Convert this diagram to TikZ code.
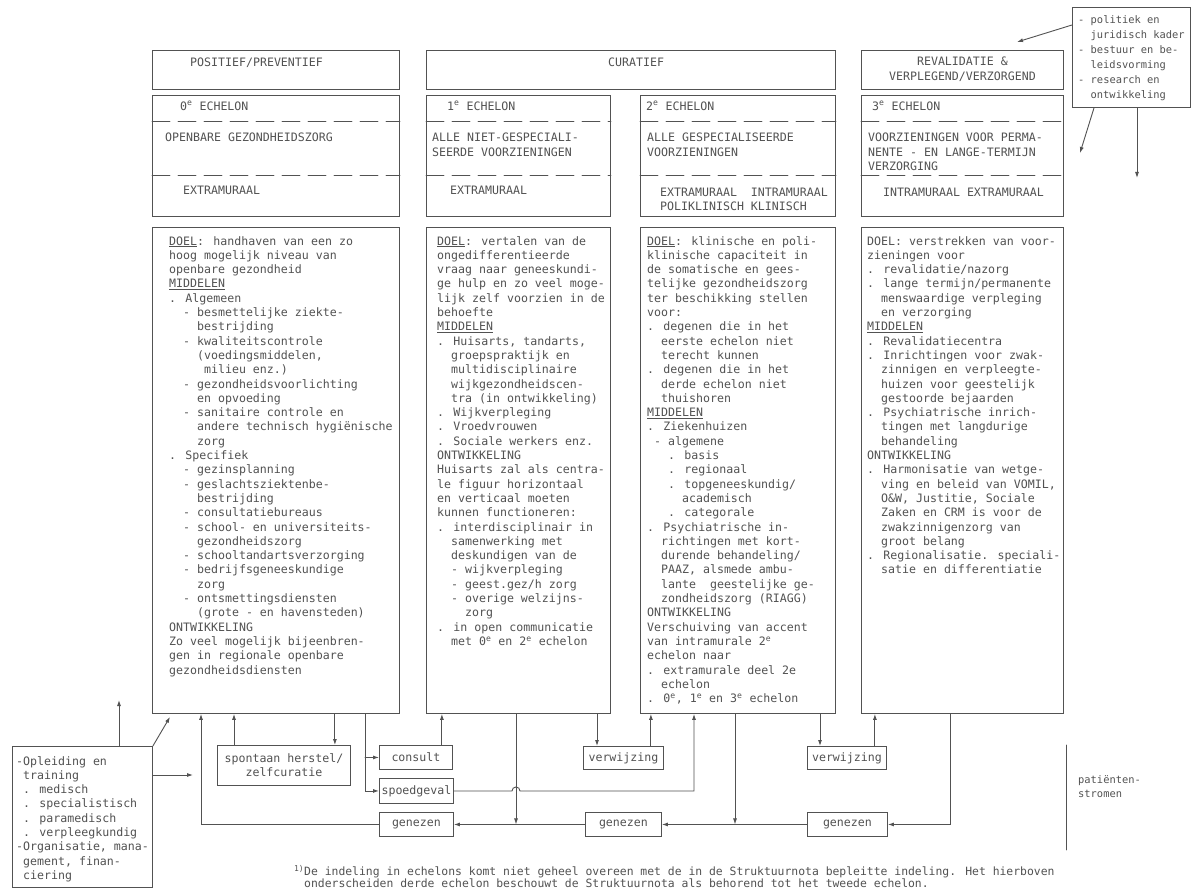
\documentclass[tikz,border=0pt]{standalone}
\usepackage{fontspec}
\newfontfamily\typewriter{DejaVu Sans Mono}
\usetikzlibrary{arrows.meta}

\definecolor{ink}{gray}{0.32}
\newlength\charw
\setlength\charw{6.98pt}
\newcommand*\ind[1]{\hspace*{#1\charw}}
\newcommand*\panel[5]{%
    % #1: name, #2/#3: top left corner, #4/#5: width/height
    \node[frame,anchor=north west,minimum width=#4pt,minimum height=#5pt] (#1) at (#2,#3) {};
}
\tikzset{
    frame/.style={draw=ink,line width=.9pt,inner sep=0pt},
    txt/.style={anchor=north west,inner sep=0pt,align=left,text=ink,
        font=\typewriter\fontsize{11.6}{14.3}\selectfont},
    small/.style={txt,font=\typewriter\fontsize{10.4}{15}\selectfont},
    tag/.style={frame,anchor=north west,align=center,text=ink,
        font=\typewriter\fontsize{11.6}{14.3}\selectfont},
    flow/.style={draw=ink,line width=.9pt,-{Latex[length=6pt,width=4pt]}},
    tier/.style={draw=ink,line width=.9pt,dash pattern=on 18pt off 8pt},
}

\begin{document}
\begin{tikzpicture}[x=1pt,y=-1pt,line cap=round]
    \fill[white] (0,0) rectangle (1203,888);
    \useasboundingbox (0,0) rectangle (1203,888);
    % header row
    \panel{head-pos}{152}{50}{247}{39}
    \panel{head-cur}{426}{50}{409}{39}
    \panel{head-rev}{861}{50}{202}{39}
    \node[txt] (t-pos) at (190,58) {POSITIEF/PREVENTIEF};
    \node[txt] (t-cur) at (608,58) {CURATIEF};
    \node[txt,align=center,anchor=north] (t-rev) at ([yshift=-7pt]head-rev.north) {REVALIDATIE \&\\VERPLEGEND/VERZORGEND};
    % echelons and their bodies
    \foreach \n/\x/\w in {0/152/247,1/426/184,2/640/195,3/861/202}{
        \panel{ech-\n}{\x}{95}{\w}{121}
        \panel{body-\n}{\x}{227}{\w}{486}
        \draw[tier] ([yshift=-26pt]ech-\n.north west) -- ([yshift=-26pt]ech-\n.north east);
        \draw[tier] ([yshift=-80pt]ech-\n.north west) -- ([yshift=-80pt]ech-\n.north east);
    }
    \node[txt] (e0-a) at (180,101) {0\textsuperscript{e} ECHELON};
    \node[txt] (e0-b) at (165,133) {OPENBARE GEZONDHEIDSZORG};
    \node[txt] (e0-c) at (183,186) {EXTRAMURAAL};
    \node[txt] (e1-a) at (447,101) {1\textsuperscript{e} ECHELON};
    \node[txt] (e1-b) at (432,133) {ALLE NIET-GESPECIALI-\\SEERDE VOORZIENINGEN};
    \node[txt] (e1-c) at (450,186) {EXTRAMURAAL};
    \node[txt] (e2-a) at (646,101) {2\textsuperscript{e} ECHELON};
    \node[txt] (e2-b) at (647,133) {ALLE GESPECIALISEERDE\\VOORZIENINGEN};
    \node[txt] (e2-c) at (660,188) {EXTRAMURAAL\ \ INTRAMURAAL\\POLIKLINISCH KLINISCH};
    \node[txt] (e3-a) at (872,101) {3\textsuperscript{e} ECHELON};
    \node[txt] (e3-b) at (868,133) {VOORZIENINGEN VOOR PERMA-\\NENTE - EN LANGE-TERMIJN\\VERZORGING};
    \node[txt] (e3-c) at (883,188) {INTRAMURAAL EXTRAMURAAL};
    % column texts
    \node[txt] (b0) at (169,236) {\underline{DOEL}: handhaven van een zo\\
        hoog mogelijk niveau van\\
        openbare gezondheid\\
        \underline{MIDDELEN}\\
        . Algemeen\\
        \ind2- besmettelijke ziekte-\\
        \ind4bestrijding\\
        \ind2- kwaliteitscontrole\\
        \ind4(voedingsmiddelen,\\
        \ind5milieu enz.)\\
        \ind2- gezondheidsvoorlichting\\
        \ind4en opvoeding\\
        \ind2- sanitaire controle en\\
        \ind4andere technisch hygiënische\\
        \ind4zorg\\
        . Specifiek\\
        \ind2- gezinsplanning\\
        \ind2- geslachtsziektenbe-\\
        \ind4bestrijding\\
        \ind2- consultatiebureaus\\
        \ind2- school- en universiteits-\\
        \ind4gezondheidszorg\\
        \ind2- schooltandartsverzorging\\
        \ind2- bedrijfsgeneeskundige\\
        \ind4zorg\\
        \ind2- ontsmettingsdiensten\\
        \ind4(grote - en havensteden)\\
        ONTWIKKELING\\
        Zo veel mogelijk bijeenbren-\\
        gen in regionale openbare\\
        gezondheidsdiensten};
    \node[txt] (b1) at (437,236) {\underline{DOEL}: vertalen van de\\
        ongedifferentieerde\\
        vraag naar geneeskundi-\\
        ge hulp en zo veel moge-\\
        lijk zelf voorzien in de\\
        behoefte\\
        \underline{MIDDELEN}\\
        . Huisarts, tandarts,\\
        \ind2groepspraktijk en\\
        \ind2multidisciplinaire\\
        \ind2wijkgezondheidscen-\\
        \ind2tra (in ontwikkeling)\\
        . Wijkverpleging\\
        . Vroedvrouwen\\
        . Sociale werkers enz.\\
        ONTWIKKELING\\
        Huisarts zal als centra-\\
        le figuur horizontaal\\
        en verticaal moeten\\
        kunnen functioneren:\\
        . interdisciplinair in\\
        \ind2samenwerking met\\
        \ind2deskundigen van de\\
        \ind2- wijkverpleging\\
        \ind2- geest.gez/h zorg\\
        \ind2- overige welzijns-\\
        \ind4zorg\\
        . in open communicatie\\
        \ind2met 0\textsuperscript{e} en 2\textsuperscript{e} echelon};
    \node[txt] (b2) at (647,236) {\underline{DOEL}: klinische en poli-\\
        klinische capaciteit in\\
        de somatische en gees-\\
        telijke gezondheidszorg\\
        ter beschikking stellen\\
        voor:\\
        . degenen die in het\\
        \ind2eerste echelon niet\\
        \ind2terecht kunnen\\
        . degenen die in het\\
        \ind2derde echelon niet\\
        \ind2thuishoren\\
        \underline{MIDDELEN}\\
        . Ziekenhuizen\\
        \ind1- algemene\\
        \ind3. basis\\
        \ind3. regionaal\\
        \ind3. topgeneeskundig/\\
        \ind5academisch\\
        \ind3. categorale\\
        . Psychiatrische in-\\
        \ind2richtingen met kort-\\
        \ind2durende behandeling/\\
        \ind2PAAZ, alsmede ambu-\\
        \ind2lante\ \ geestelijke ge-\\
        \ind2zondheidszorg (RIAGG)\\
        ONTWIKKELING\\
        Verschuiving van accent\\
        van intramurale 2\textsuperscript{e}\\
        echelon naar\\
        . extramurale deel 2e\\
        \ind2echelon\\
        . 0\textsuperscript{e}, 1\textsuperscript{e} en 3\textsuperscript{e} echelon};
    \node[txt] (b3) at (867,236) {DOEL: verstrekken van voor-\\
        zieningen voor\\
        . revalidatie/nazorg\\
        . lange termijn/permanente\\
        \ind2menswaardige verpleging\\
        \ind2en verzorging\\
        \underline{MIDDELEN}\\
        . Revalidatiecentra\\
        . Inrichtingen voor zwak-\\
        \ind2zinnigen en verpleegte-\\
        \ind2huizen voor geestelijk\\
        \ind2gestoorde bejaarden\\
        . Psychiatrische inrich-\\
        \ind2tingen met langdurige\\
        \ind2behandeling\\
        ONTWIKKELING\\
        . Harmonisatie van wetge-\\
        \ind2ving en beleid van VOMIL,\\
        \ind2O\&W, Justitie, Sociale\\
        \ind2Zaken en CRM is voor de\\
        \ind2zwakzinnigenzorg van\\
        \ind2groot belang\\
        . Regionalisatie. speciali-\\
        \ind2satie en differentiatie};
    % side boxes
    \panel{pol}{1072}{7}{118}{100}
    \node[small] (pol-txt) at (1078,15) {- politiek en\\\hspace*{12.5pt}juridisch kader\\- bestuur en be-\\\hspace*{12.5pt}leidsvorming\\- research en\\\hspace*{12.5pt}ontwikkeling};
    \panel{opl}{12}{746}{140}{141}
    \node[txt] (opl-txt) at (16,756) {-Opleiding en\\\ind1training\\\ind1. medisch\\\ind1. specialistisch\\\ind1. paramedisch\\\ind1. verpleegkundig\\-Organisatie, mana-\\\ind1gement, finan-\\\ind1ciering};
    % patient flow boxes
    \node[tag,minimum width=133pt,minimum height=40pt] (spont) at (217,745) {spontaan herstel/\\zelfcuratie};
    \node[tag,minimum width=73pt,minimum height=24pt] (cons) at (379,745) {consult};
    \node[tag,minimum width=74pt,minimum height=25pt] (spoed) at (379,778) {spoedgeval};
    \node[tag,minimum width=80pt,minimum height=23pt] (verw1) at (583,746) {verwijzing};
    \node[tag,minimum width=79pt,minimum height=23pt] (verw2) at (807,746) {verwijzing};
    \node[tag,minimum width=74pt,minimum height=24pt] (gen1) at (379,812) {genezen};
    \node[tag,minimum width=76pt,minimum height=24pt] (gen2) at (585,812) {genezen};
    \node[tag,minimum width=80pt,minimum height=24pt] (gen3) at (807,812) {genezen};
    \coordinate (opl-up) at (119,700);
    \coordinate (opl-r) at (193,775);
    \coordinate (j2) at ([xshift=90pt]body-1.south west);
    \coordinate (j3) at ([xshift=95pt]body-2.south west);
    \coordinate (pol-a) at (1017,42);
    \coordinate (pol-b) at (1080,153);
    \coordinate (pol-c) at (1137,178);
    % connectors
    \draw[flow] (opl.north -| opl-up) -- (opl-up);
    \draw[flow] (opl.north east) -- ([xshift=18pt,yshift=-3pt]body-0.south west);
    \draw[flow] (opl.east |- opl-r) -- (opl-r);
    \draw[flow] (gen1.west) -| ([xshift=49pt]body-0.south west);
    \draw[flow] ([xshift=17pt]spont.north west) -- ([xshift=17pt]spont.north west |- body-0.south);
    \draw[flow] ([xshift=-16pt]spont.north east |- body-0.south) -- ([xshift=-16pt]spont.north east);
    \draw[flow] ([xshift=-14pt]cons.west |- body-0.south) |- (spoed.west);
    \draw[flow] ([xshift=-14pt]cons.west) -- (cons.west);
    \draw[flow] ([xshift=-11pt]cons.north east) -- ([xshift=-11pt]cons.north east |- body-1.south);
    \draw[flow] (spoed.east) -- ([xshift=-4pt]spoed.east -| j2) arc[start angle=180,end angle=0,radius=4pt] -| ([xshift=54pt]body-2.south west);
    \draw[flow] (j2) -- (j2 |- gen1.east);
    \draw[flow] (gen2.west) -- (gen1.east);
    \draw[flow] (j3) -- (j3 |- gen2.east);
    \draw[flow] (gen3.west) -- (gen2.east);
    \draw[flow] ([xshift=89pt]body-3.south west) |- (gen3.east);
    \draw[flow] ([xshift=14pt]verw1.north west |- body-1.south) -- ([xshift=14pt]verw1.north west);
    \draw[flow] ([xshift=-13pt]verw1.north east) -- ([xshift=-13pt]verw1.north east |- body-2.south);
    \draw[flow] ([xshift=13pt]verw2.north west |- body-2.south) -- ([xshift=13pt]verw2.north west);
    \draw[flow] ([xshift=-12pt]verw2.north east) -- ([xshift=-12pt]verw2.north east |- body-3.south);
    \draw[flow] ([yshift=-18pt]pol.north west) -- (pol-a);
    \draw[flow] ([xshift=22pt]pol.south west) -- (pol-b);
    \draw[flow] ([xshift=65pt]pol.south west) -- (pol-c);
    % patient flows label
    \draw[ink,line width=.9pt] (1066,745) -- (1066,850);
    \node[small,font=\typewriter\fontsize{10.4}{14}\selectfont] (pat) at (1078,775) {patiënten-\\stromen};
    % footnote
    \node[txt,font=\typewriter\fontsize{11.4}{12.4}\selectfont] (note) at (304,865) {\llap{\textsuperscript{1)}}De indeling in echelons komt niet geheel overeen met de in de Struktuurnota bepleitte indeling. Het hierboven\\onderscheiden derde echelon beschouwt de Struktuurnota als behorend tot het tweede echelon.};
\end{tikzpicture}
\end{document}
